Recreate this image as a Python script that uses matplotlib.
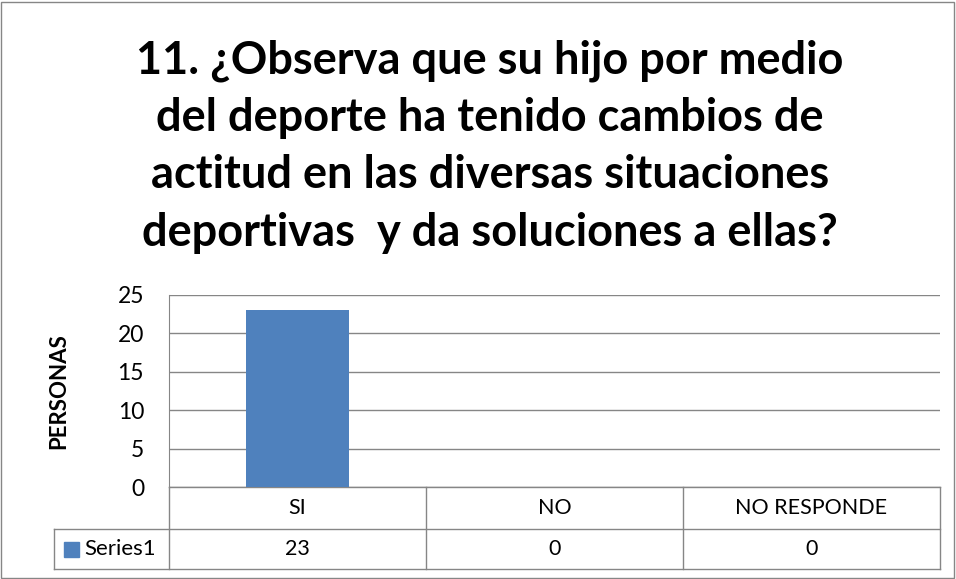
import matplotlib
matplotlib.use("Agg")
import matplotlib.pyplot as plt
from matplotlib.patches import Rectangle
from matplotlib.lines import Line2D

categories = ["SI", "NO", "NO RESPONDE"]
values = [23, 0, 0]
series_name = "Series1"
title = "11. ¿Observa que su hijo por medio\ndel deporte ha tenido cambios de\nactitud en las diversas situaciones\ndeportivas  y da soluciones a ellas?"
ylabel = "PERSONAS"
yticks = [0, 5, 10, 15, 20, 25]

W, H = 956, 579
fig = plt.figure(figsize=(W/100, H/100), dpi=100)
plt.rcParams['font.family'] = ['Lato', 'DejaVu Sans']

# outer border
fig.patches.append(Rectangle((1/W, 1/H), 1-3/W, 1-3/H, transform=fig.transFigure,
                             fill=False, edgecolor='#868686', linewidth=1))

L, R, T, B = 169, 940, 295, 487
ax = fig.add_axes([L/W, 1-B/H, (R-L)/W, (B-T)/H])
x = list(range(len(categories)))
ax.bar(x, values, width=0.4, color='#4F81BD', zorder=3)
ax.set_xlim(-0.5, len(categories)-0.5)
ax.set_ylim(0, 25)
ax.set_yticks(yticks)
ax.set_yticklabels([str(t) for t in yticks], fontsize=16.5)
ax.tick_params(axis='y', length=0, pad=18)
ax.set_xticks([])
ax.grid(axis='y', color='#868686', linewidth=1, zorder=0)
for s in ['top', 'right', 'bottom']:
    ax.spines[s].set_visible(False)
ax.spines['left'].set_color('#868686')
ax.set_ylabel(ylabel, fontsize=16, fontweight='bold')
ax.yaxis.set_label_coords((69-L)/(R-L), 0.5)

# data table
ph = B - T
pw = R - L
r1 = -(529-487)/ph
r2 = -(569-487)/ph
lx = -(L-54)/pw
lc = '#868686'
def hline(y, x0, x1):
    ax.add_line(Line2D([x0, x1], [y, y], transform=ax.transAxes, color=lc, lw=1, clip_on=False))
def vline(xx, y0, y1):
    ax.add_line(Line2D([xx, xx], [y0, y1], transform=ax.transAxes, color=lc, lw=1, clip_on=False))
hline(0, 0, 1)
hline(r1, lx, 1)
hline(r2, lx, 1)
n = len(categories)
for i in range(n+1):
    vline(i/n, 0, r2)
vline(lx, r1, r2)
for i, (c, v) in enumerate(zip(categories, values)):
    xc = (i+0.5)/n
    ax.text(xc, r1/2, c, transform=ax.transAxes, ha='center', va='center', fontsize=15.5)
    ax.text(xc, (r1+r2)/2, str(v), transform=ax.transAxes, ha='center', va='center', fontsize=15.5)
# legend key
kx0 = (64-L)/pw
kw = 15/pw
kh = 15/ph
ky = (r1+r2)/2 - kh/2
ax.add_patch(Rectangle((kx0, ky), kw, kh, transform=ax.transAxes, color='#4F81BD', clip_on=False))
ax.text((84-L)/pw, (r1+r2)/2, series_name, transform=ax.transAxes, ha='left', va='center', fontsize=16)

for i, line in enumerate(title.split("\n")):
    fig.text(490/W, 1-(73+57.7*i)/H, line, ha='center', va='baseline', fontsize=32.5,
             fontweight='bold')

fig.savefig("out.png", dpi=100)
